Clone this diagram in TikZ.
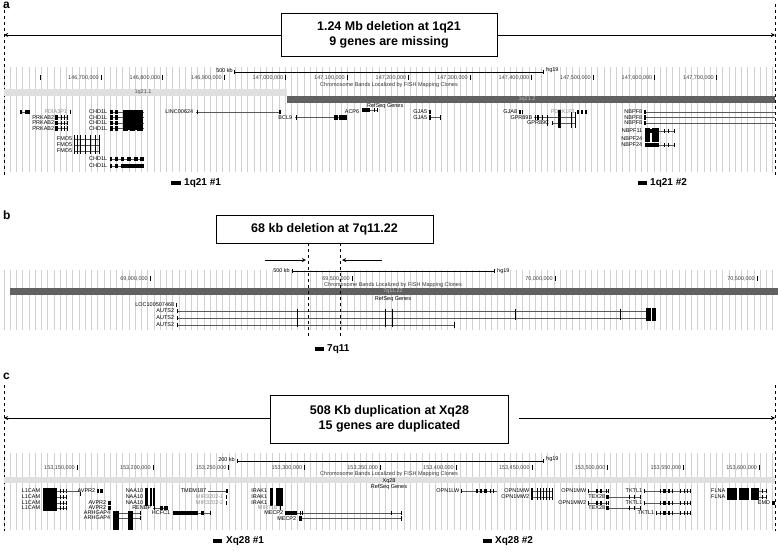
\documentclass[tikz,border=0pt]{standalone}
\usepackage{fontspec}
\setmainfont{Liberation Sans}
\begin{document}
\begin{tikzpicture}[x=1pt,y=-1pt,
  gl/.style={anchor=east,inner sep=0.6pt,font=\fontsize{5.5}{6}\selectfont},
  tl/.style={anchor=east,inner sep=1pt,font=\fontsize{5.5}{6}\selectfont,text=black!75},
  gline/.style={gray!70!black,line width=0.5pt},
  grid/.style={black!18,line width=0.6pt},
  bigbox/.style={draw,line width=0.8pt,fill=white,align=center,inner sep=0pt,font=\bfseries\fontsize{12.5}{15}\selectfont},
  dl/.style={dashed,line width=0.8pt},
  arr/.style={->,>=stealth,line width=0.9pt},
  plabel/.style={anchor=north west,inner sep=0pt,font=\bfseries\fontsize{12}{12}\selectfont},
  probe/.style={anchor=west,inner sep=0pt,font=\bfseries\fontsize{10}{12}\selectfont}]
\newcommand\glab[4][black]{\node[gl,text=#1] at (#2,#3) {#4};}
\newcommand\gline[3]{\draw[gline] (#1,#3)--(#2,#3);}
\newcommand\ex[3]{\fill ([yshift=-2.2pt]#1,#3) rectangle ([yshift=2.2pt]#2,#3);}
\newcommand\tk[2]{\draw[line width=0.7pt] ([yshift=-2.2pt]#1,#2)--([yshift=2.2pt]#1,#2);}
\useasboundingbox (0,0) rectangle (778,551);
\fill[white] (0,0) rectangle (778,551);
% ================= panel a
\node[plabel] (la) at (3,2) {a};
\foreach \i in {0,...,123} \draw[grid] ({4+6.25*\i},67)--++(0,105);
\draw[dl] (4,4)--(4,176); \draw[dl] (775,4)--(775,176);
\node[bigbox,minimum width=216pt,minimum height=43pt] (boxa) at (389,35) {1.24 Mb deletion at 1q21\\9 genes are missing};
\coordinate (aL) at (4,35); \coordinate (aR) at (775,35);
\draw[arr] (boxa.west)--(aL); \draw[arr] (boxa.east)--(aR);
\draw[line width=0.5pt] (234,72)--(543,72); \draw (234,70)--(234,74); \draw (543,70)--(543,74);
\node[tl,text=black] at (234,71) {500 kb}; \node[tl,anchor=west,text=black] at (545,70) {hg19};
\draw[line width=0.6pt] (40,75)--(40,80);
\foreach \v [count=\k from 0] in {146{,}700{,}000,146{,}800{,}000,146{,}900{,}000,147{,}000{,}000,147{,}100{,}000,147{,}200{,}000,147{,}300{,}000,147{,}400{,}000,147{,}500{,}000,147{,}600{,}000,147{,}700{,}000}
 {\draw[line width=0.6pt] ({101+61.5*\k},75)--++(0,5); \node[tl] at ({100+61.5*\k},78) {\v};}
\node[font=\fontsize{5.5}{6}\selectfont,inner sep=0pt,text=black!80] at (389,85.5) {Chromosome Bands Localized by FISH Mapping Clones};
\fill[black!12] (4,89) rectangle (287,96);
\fill[black!62] (287,96) rectangle (775,103);
\node[font=\fontsize{5.5}{6}\selectfont,inner sep=0pt,text=black!70] at (143,92.5) {1q21.1};
\node[font=\fontsize{5.5}{6}\selectfont,inner sep=0pt,text=black!25] at (527,99.5) {1q21.2};
\node[font=\fontsize{5.5}{6}\selectfont,inner sep=0pt,anchor=west] at (367,106) {RefSeq Genes};
% genes a
\gline{20}{30}{112}\ex{20}{22}{112}\ex{25}{30}{112}\glab[black!45]{68}{112}{PDIA3P1}\tk{70}{112}
\foreach \y in {117.5,123,128.5}{\glab{55}{\y}{PRKAB2}\gline{55}{67}{\y}\ex{55}{58}{\y}\tk{61}{\y}\tk{64}{\y}\tk{67}{\y}}
\foreach \y in {112,117.5,123,128.5}{\glab{108}{\y}{CHD1L}\gline{110}{144}{\y}\ex{110}{113}{\y}\ex{115}{118}{\y}\ex{123}{128}{\y}\ex{130}{135}{\y}\ex{137}{143}{\y}}
\fill (123,110) rectangle (143,130);
\foreach \y in {139,145,151}{\glab{73}{\y}{FMO5}\gline{74}{99}{\y}}
\foreach \x in {74,77,80,85,90,95,99}\draw[line width=0.7pt] (\x,135)--(\x,154);
\foreach \y in {159,166}{\glab{108}{\y}{CHD1L}\gline{110}{144}{\y}\ex{110}{112}{\y}\ex{115}{118}{\y}\ex{121}{124}{\y}\ex{127}{131}{\y}\ex{134}{138}{\y}\ex{140}{144}{\y}}
\ex{124}{144}{166}
\glab{194}{112}{LINC00624}\gline{196}{280}{112}\tk{197}{112}\ex{279}{281}{112}
\glab{293}{117.5}{BCL9}\gline{295}{347}{117.5}\tk{296}{117.5}\ex{334}{338}{117.5}\ex{339}{347}{117.5}
\glab{360}{112}{ACP6}\gline{362}{377}{110}\ex{362}{370}{110}\tk{374}{110}\tk{377}{110}
\glab{428}{112}{GJA5}\ex{429}{431}{112}
\glab{428}{117.5}{GJA5}\ex{429}{431}{117.5}\gline{431}{440}{117.5}\tk{440}{117.5}
\glab{518}{112}{GJA8}\ex{519}{521}{112}\tk{522}{112}
\glab[black!45]{576}{112}{PDZK1P1}\ex{577}{579}{112}\ex{581}{583}{112}\ex{585}{587}{112}
\glab{533}{117.5}{GPR89B}\gline{534}{575}{117.5}\tk{535}{117.5}\ex{537}{539}{117.5}\tk{542}{117.5}
\glab{550}{123}{GPR89C}\gline{552}{575}{123}\tk{552}{123}
\ex{558}{561}{112}\fill (558,112) rectangle (561,128); \draw[line width=0.8pt] (571,112)--(571,128) (575,112)--(575,128) (547,115)--(547,126);
\foreach \y in {112,117.5,123}{\glab{643}{\y}{NBPF8}\gline{644}{775}{\y}\ex{644}{646}{\y}}
\glab{643}{131}{NBPF11}\glab{643}{139}{NBPF24}\glab{643}{145}{NBPF24}
\fill (645,128) rectangle (650,142); \fill (652,128) rectangle (659,142);
\foreach \y in {131,145}{\gline{645}{674}{\y}\ex{645}{659}{\y}\tk{664}{\y}\tk{668}{\y}\tk{674}{\y}}
\fill (171,181) rectangle (181,185); \node[probe] (p1) at (184,183) {1q21 \#1};
\fill (638,181) rectangle (647,185); \node[probe] (p2) at (650,183) {1q21 \#2};
% ================= panel b
\node[plabel] (lb) at (3,211) {b};
\foreach \i in {0,...,123} \draw[grid] ({4+6.25*\i},270)--++(0,60);
\node[bigbox,minimum width=217pt,minimum height=28pt] (boxb) at (324.5,229) {68 kb deletion at 7q11.22};
\draw[line width=0.5pt] (292,271)--(494,271); \draw (292,269)--(292,273); \draw (494,269)--(494,273);
\node[tl,text=black] at (291,271) {500 kb}; \node[tl,anchor=west,text=black] at (496,271) {hg19};
\foreach \v/\x in {69{,}000{,}000/150,69{,}500{,}000/352,70{,}000{,}000/555,70{,}500{,}000/757}
 {\draw[line width=0.6pt] (\x,276)--++(0,5); \node[tl] at ({\x-1},279) {\v};}
\node[font=\fontsize{5.5}{6}\selectfont,inner sep=0pt,text=black!80] at (393,285) {Chromosome Bands Localized by FISH Mapping Clones};
\fill[black!62] (10,288) rectangle (778,295);
\node[font=\fontsize{5.5}{6}\selectfont,inner sep=0pt,text=black!25] at (393,291.5) {7q11.22};
\node[font=\fontsize{5.5}{6}\selectfont,inner sep=0pt] at (393,299.5) {RefSeq Genes};
\glab{175}{305}{LOC100507468}\tk{176}{305}
\foreach \y in {311,318,325}\glab{175}{\y}{AUTS2}
\gline{177}{647}{311}\gline{177}{647}{318}\gline{177}{454}{325}
\foreach \y in {311,318,325}\tk{177}{\y}
\draw[line width=0.8pt] (297,309)--(297,327) (385,309)--(385,327) (392,309)--(392,327) (515,309)--(515,320) (620,309)--(620,320) (454,322)--(454,328);
\fill (646,308) rectangle (651,321); \fill (652,308) rectangle (656,321);
\draw[dl] (308,243)--(308,336); \draw[dl] (340,243)--(340,336);
\coordinate (bL) at (265,260); \coordinate (bR) at (382,260);
\coordinate (bL2) at (306,260); \coordinate (bR2) at (342,260);
\draw[arr] (bL)--(bL2); \draw[arr] (bR)--(bR2);
\fill (315,347) rectangle (324,351); \node[probe] (p3) at (327,349) {7q11};
% ================= panel c
\node[plabel] (lc) at (3,373) {c};
\foreach \i in {0,...,123} \draw[grid] ({4+6.25*\i},453)--++(0,77);
\draw[dl] (4,385)--(4,531); \draw[dl] (775,385)--(775,531);
\node[bigbox,minimum width=238pt,minimum height=48pt] (boxc) at (389.5,419) {508 Kb duplication at Xq28\\15 genes are duplicated};
\coordinate (cL) at (4,418); \coordinate (cR) at (775,418);
\draw[arr] (boxc.west|-cL)--(cL); \draw[arr] ([xshift=10pt]boxc.east|-cR)--(cR);
\draw[line width=0.5pt] (237,461)--(543,461); \draw (237,459)--(237,463); \draw (543,459)--(543,463);
\node[tl,text=black] at (236,460) {200 kb}; \node[tl,anchor=west,text=black] at (545,459) {hg19};
\foreach \v [count=\k from 0] in {153{,}150{,}000,153{,}200{,}000,153{,}250{,}000,153{,}300{,}000,153{,}350{,}000,153{,}400{,}000,153{,}450{,}000,153{,}500{,}000,153{,}550{,}000,153{,}600{,}000}
 {\draw[line width=0.6pt] ({77+75.8*\k},465)--++(0,5); \node[tl] at ({76+75.8*\k},468) {\v};}
\node[font=\fontsize{5.5}{6}\selectfont,inner sep=0pt,text=black!80] at (389,474.5) {Chromosome Bands Localized by FISH Mapping Clones};
\fill[black!12] (4,477) rectangle (775,483);
\node[font=\fontsize{5.5}{6}\selectfont,inner sep=0pt] at (389,481) {Xq28};
\node[font=\fontsize{5.5}{6}\selectfont,inner sep=0pt] at (389,487) {RefSeq Genes};
\foreach \y in {491,497,503,508}{\glab{41}{\y}{L1CAM}\gline{43}{66}{\y}\tk{60}{\y}\tk{63}{\y}\tk{66}{\y}}
\fill (43,488) rectangle (57,511); \gline{66}{80}{491}\tk{80}{494}
\glab{96}{491}{AVPR2}\ex{97}{99}{491}\ex{100}{103}{491}
\glab{107}{503}{AVPR2}\ex{108}{111}{503}\glab{107}{508}{AVPR2}\ex{108}{111}{508}
\foreach \y in {491,497,503}\glab{144}{\y}{NAA10}
\fill (145,488) rectangle (148,506); \fill (150,488) rectangle (152,506); \fill (153,488) rectangle (155,506);
\glab{152}{508}{RENBP}\gline{153}{168}{508}\tk{154}{508}\ex{160}{163}{508}\ex{164}{168}{508}
\glab{111}{513}{ARHGAP4}\glab{111}{518}{ARHGAP4}
\foreach \y in {513,518}{\gline{113}{140}{\y}\ex{113}{119}{\y}\ex{128}{133}{\y}\tk{140}{\y}}
\fill (113,511) rectangle (119,530); \fill (128,511) rectangle (133,530);
\glab{171}{513}{HCFC1}\gline{173}{210}{513}\ex{173}{198}{513}\ex{201}{204}{513}\tk{210}{513}
\glab{207}{491}{TMEM187}\gline{208}{227}{491}\ex{226}{228}{491}
\glab[black!45]{224}{497}{MIR3202-1}\tk{226}{497}
\glab[black!45]{224}{503}{MIR3202-2}\tk{226}{503}
\foreach \y in {491,497,503}\glab{268}{\y}{IRAK1}
\fill (270,488) rectangle (273,506); \fill (276,488) rectangle (283,506);
\glab[black!45]{278}{508}{MIR718}\tk{280}{508}
\glab{284}{513}{MECP2}\gline{285}{401}{513}\ex{285}{297}{513}\tk{300}{513}\tk{302}{513}\tk{391}{513}\tk{401}{513}
\glab{297}{518.5}{MECP2}\gline{299}{401}{518.5}\ex{299}{302}{518.5}\tk{401}{518.5}
\glab{460}{491}{OPN1LW}\gline{461}{497}{491}\tk{461}{491}\ex{476}{478}{491}\ex{480}{482}{491}\ex{484}{487}{491}\tk{490}{491}\tk{493}{491}
\glab{530}{491}{OPN1MW}\glab{530}{497}{OPN1MW2}
\foreach \y in {491,497}{\gline{531}{552}{\y}}
\fill (531,488) rectangle (533,500); \foreach \x in {537,540,543,546,549,552} \draw[line width=0.8pt] (\x,488)--(\x,500);
\glab{587}{491}{OPN1MW}\glab{587}{503}{OPN1MW2}
\foreach \y in {491,503}{\gline{588}{608}{\y}\tk{588}{\y}\ex{596}{598}{\y}\ex{600}{602}{\y}\tk{606}{\y}\tk{608}{\y}}
\glab{606}{497}{TEX28}\glab{606}{508}{TEX28}
\foreach \y in {497,508}{\gline{606}{640}{\y}\ex{606}{609}{\y}\tk{629}{\y}\tk{634}{\y}\tk{640}{\y}}
\glab{643}{491}{TKTL1}\glab{643}{503}{TKTL1}\glab{655}{513}{TKTL1}
\foreach \y in {491,503}{\gline{644}{690}{\y}\tk{644}{\y}}
\gline{656}{690}{513}\tk{656}{513}
\foreach \y in {491,503,513}{\tk{660}{\y}\ex{663}{666}{\y}\ex{668}{670}{\y}\tk{672}{\y}\tk{680}{\y}\tk{684}{\y}\tk{687}{\y}\tk{690}{\y}}
\glab{726}{491}{FLNA}\glab{726}{497}{FLNA}
\fill (727,488) rectangle (737,500); \fill (739,488) rectangle (749,500); \fill (751,488) rectangle (759,500);
\foreach \y in {491,497}{\gline{759}{766}{\y}\tk{762}{\y}\tk{766}{\y}}
\glab{771}{503}{EMD}\ex{772}{775}{503}
\fill (213,539) rectangle (222,543); \node[probe] (p4) at (226,541) {Xq28 \#1};
\fill (483,539) rectangle (492,543); \node[probe] (p5) at (495,541) {Xq28 \#2};
\end{tikzpicture}
\end{document}
